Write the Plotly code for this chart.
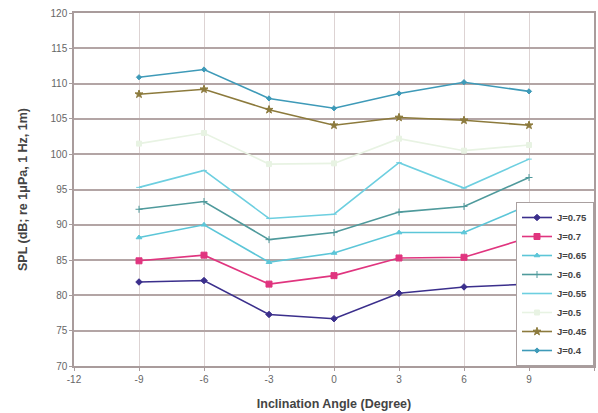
import plotly.graph_objects as go

# Inclination angles (degrees)
angles = [-9, -6, -3, 0, 3, 6, 9]

# Axis tick values
x_ticks = [-12, -9, -6, -3, 0, 3, 6, 9, 12]
y_ticks = [70, 75, 80, 85, 90, 95, 100, 105, 110, 115, 120]

# Sound pressure level per advance ratio J
spl_j075 = [81.9, 82.1, 77.3, 76.7, 80.3, 81.2, 81.6]
spl_j070 = [84.9, 85.7, 81.6, 82.8, 85.3, 85.4, 88.2]
spl_j065 = [88.2, 90.0, 84.7, 86.0, 88.9, 88.9, 92.8]
spl_j060 = [92.2, 93.3, 87.9, 88.9, 91.8, 92.6, 96.7]
spl_j055 = [95.3, 97.7, 90.9, 91.5, 98.8, 95.2, 99.3]
spl_j050 = [101.5, 103.0, 98.6, 98.7, 102.2, 100.5, 101.3]
spl_j045 = [108.5, 109.2, 106.3, 104.1, 105.2, 104.8, 104.1]
spl_j040 = [110.9, 112.0, 107.9, 106.5, 108.6, 110.2, 108.9]

series_names = ["J=0.75", "J=0.7", "J=0.65", "J=0.6", "J=0.55", "J=0.5", "J=0.45", "J=0.4"]
series_values = [spl_j075, spl_j070, spl_j065, spl_j060, spl_j055, spl_j050, spl_j045, spl_j040]

styles = [
    dict(color="#3b2f8c", symbol="diamond", size=5),
    dict(color="#e0357f", symbol="square", size=6),
    dict(color="#5cc6d8", symbol="triangle-up", size=5),
    dict(color="#4f9a9c", symbol="cross-thin", size=5),
    dict(color="#6dcfe0", symbol="line-ew", size=4),
    dict(color="#e8f3e3", symbol="square", size=5),
    dict(color="#8c7a3c", symbol="star", size=6),
    dict(color="#3e9ab8", symbol="diamond", size=4),
]

fig = go.Figure()
for name, vals, st in zip(series_names, series_values, styles):
    fig.add_trace(go.Scatter(
        x=angles, y=vals, name=name, mode="lines+markers",
        line=dict(color=st["color"], width=1.6),
        marker=dict(color=st["color"], symbol=st["symbol"], size=st["size"],
                    line=dict(color=st["color"], width=1)),
    ))

font_family = "Liberation Sans, Arial, sans-serif"
tick_font = dict(family=font_family, size=10, color="#666666")
title_font = dict(family=font_family, size=12.5, color="#444444")

fig.update_layout(
    width=598, height=413,
    margin=dict(l=74, r=4, t=13, b=47),
    paper_bgcolor="white", plot_bgcolor="white",
    showlegend=True,
    legend=dict(
        x=1.0, y=0.0, xanchor="right", yanchor="bottom",
        bgcolor="white", bordercolor="#a9a0a0", borderwidth=1,
        font=dict(family=font_family, size=9.5, color="#444444", weight="bold"),
        itemwidth=30, tracegroupgap=0,
    ),
    xaxis=dict(
        range=[-12, 12], tickmode="array", tickvals=x_ticks,
        ticktext=[str(v) for v in x_ticks],
        showgrid=True, gridcolor="#ddd3d3", gridwidth=1,
        showline=True, linecolor="#a99c9c", linewidth=1.5, mirror=True,
        zeroline=False, ticks="outside", ticklen=3, tickcolor="#a99c9c",
        tickfont=tick_font, automargin=False,
        title=dict(text="<b>Inclination Angle (Degree)</b>", font=title_font, standoff=15),
    ),
    yaxis=dict(
        range=[70, 120], tickmode="array", tickvals=y_ticks,
        ticktext=[str(v) for v in y_ticks],
        showgrid=True, gridcolor="#b3a5a5", gridwidth=1.5,
        showline=True, linecolor="#a99c9c", linewidth=1.5, mirror=True,
        zeroline=False, ticks="outside", ticklen=3, tickcolor="#a99c9c",
        tickfont=tick_font, automargin=False,
        title=dict(text="<b>SPL (dB; re 1μPa, 1 Hz, 1m)</b>", font=title_font, standoff=20),
    ),
)

fig.write_html("out.html")
